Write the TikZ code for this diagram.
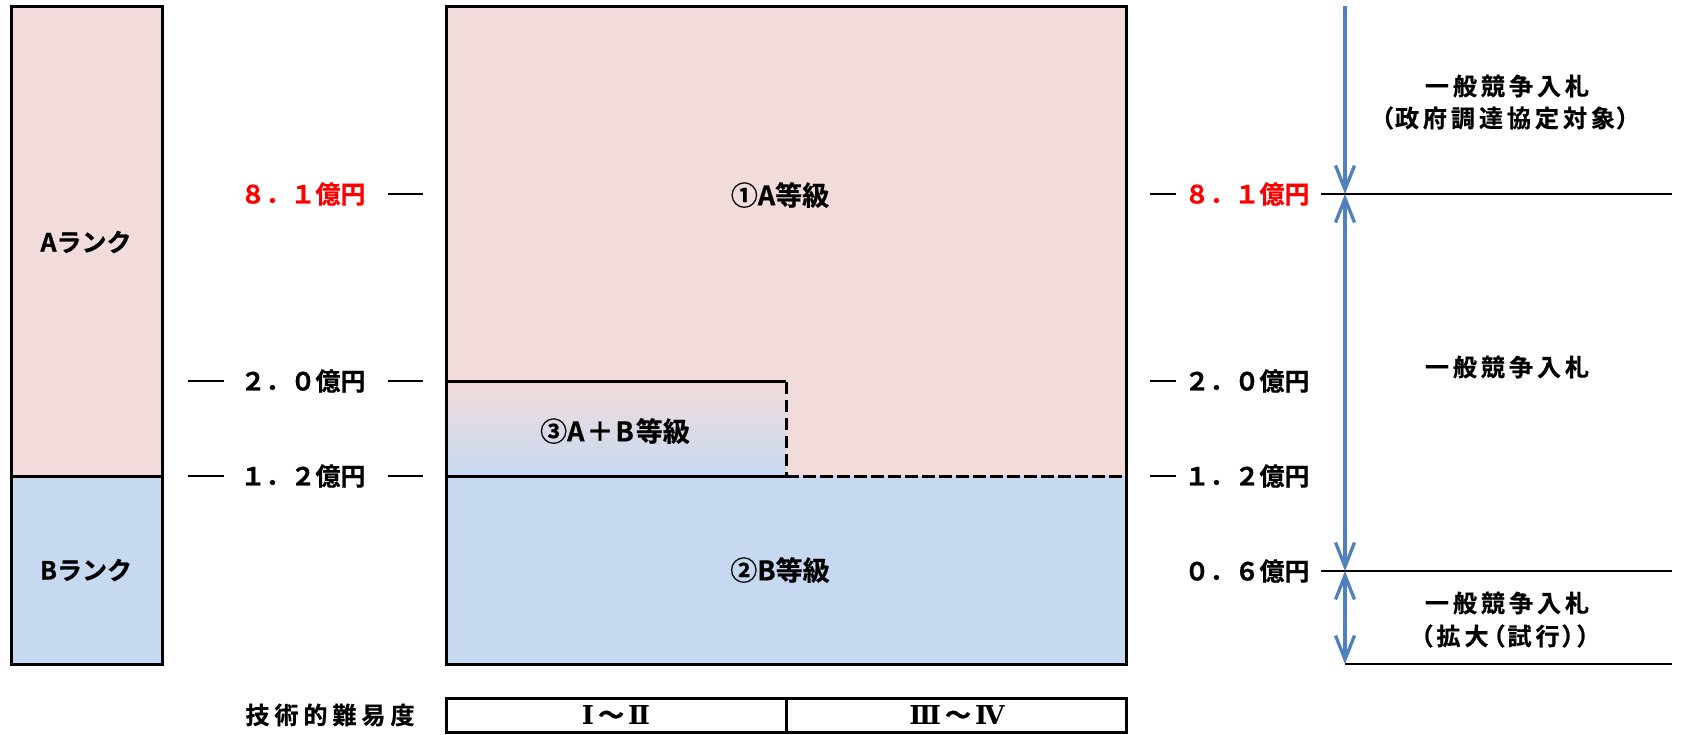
\documentclass[tikz,border=0pt]{standalone}
\usepackage{fontspec}
\usetikzlibrary{arrows.meta}
\newfontfamily\jp{Noto Sans CJK JP Bold}[FakeBold=0.6]
\newfontfamily\jpp{Noto Sans CJK JP Bold}[RawFeature=+palt,FakeBold=0.6]
\newfontfamily\romf{DejaVu Serif Bold}
\newcommand{\jsp}{\kern4pt}
\newcommand{\tsp}{\kern5pt}
\definecolor{pinkA}{HTML}{F2DCDB}
\definecolor{blueB}{HTML}{C6D9F1}
\definecolor{arrowblue}{HTML}{4F81BD}
\definecolor{labred}{HTML}{FF0000}
\tikzset{
  border/.style={line width=3pt, draw=black},
  tline/.style={line width=2pt, draw=black},
  dashA/.style={border, dash pattern=on 13pt off 4pt},
  barrow/.style={line width=3.3pt, draw=arrowblue},
  tip/.tip={Straight Barb[length=24pt,width=19pt,line width=3.3pt]},
  txt/.style={inner sep=0pt, text=black},
  amount/.style={txt, font=\jp\fontsize{25}{29}\selectfont},
  redamount/.style={amount, text=labred},
  rank/.style={txt, font=\jp\fontsize{25}{29}\selectfont},
  grade/.style={txt, font=\jp\fontsize{27}{31}\selectfont},
  note/.style={txt, font=\jpp\fontsize{24}{28}\selectfont},
  diff/.style={txt, font=\jp\fontsize{24}{28}\selectfont},
  roman/.style={txt, font=\fontsize{26}{30}\selectfont},
}
\begin{document}
\begin{tikzpicture}[x=1pt,y=-1pt]
\useasboundingbox (0,0) rectangle (1681,734);
% left rank bar
\fill[pinkA] (11,6) rectangle (162,476);
\fill[blueB] (11,476) rectangle (162,664);
\draw[border] (11,6) rectangle (162,664);
\draw[border] (11,476) -- (162,476);
\node[rank] (rankA) at (86,242) {Aランク};
\node[rank] (rankB) at (86,570) {Bランク};
% main chart
\fill[pinkA] (446,6) rectangle (1126,476);
\fill[blueB] (446,476) rectangle (1126,664);
\shade[top color=pinkA, bottom color=blueB] (446,381) rectangle (786,476);
\draw[border] (446,6) rectangle (1126,664);
\draw[border] (446,381) -- (786,381);
\draw[border] (446,476) -- (786,476);
\draw[border, dash pattern=on 12pt off 6pt] (786,382) -- (786,476);
\draw[dashA] (786,476) -- (1126,476);
\node[grade] (g1) at (780,195) {①A等級};
\node[grade] (g3) at (615,431) {③A\kern2pt＋\kern2pt B\kern2pt 等級};
\node[grade] (g2) at (780,570) {②B等級};
% left amount labels
\node[redamount] (l81) at (303,194) {８．１億円};
\draw[tline] (388,194) -- (423,194);
\node[amount] (l20) at (303,381) {２．０億円};
\draw[tline] (188,381) -- (224,381);
\draw[tline] (388,381) -- (423,381);
\node[amount] (l12) at (303,476) {１．２億円};
\draw[tline] (188,476) -- (224,476);
\draw[tline] (388,476) -- (423,476);
% right amount labels
\node[redamount] (r81) at (1247,194) {８．１億円};
\draw[tline] (1150,194) -- (1176,194);
\node[amount] (r20) at (1247,381) {２．０億円};
\draw[tline] (1150,381) -- (1176,381);
\node[amount] (r12) at (1247,476) {１．２億円};
\draw[tline] (1150,476) -- (1176,476);
\node[amount] (r06) at (1247,571) {０．６億円};
% right guide lines
\coordinate (atop) at (1345,6);
\coordinate (a81) at (1345,194);
\coordinate (a06) at (1345,571);
\coordinate (abot) at (1345,664);
\draw[tline] (1321,194) -- (1672,194);
\draw[tline] (1321,571) -- (1672,571);
\draw[tline] (abot) -- (1672,664);
\draw[barrow, -{tip}] (atop) -- (a81);
\draw[barrow, {tip}-{tip}] (a81) -- (a06);
\draw[barrow, {tip}-{tip}] (a06) -- (abot);
% right notes
\node[note] (n1a) at (1507,86) {一\jsp 般\jsp 競\jsp 争\jsp 入\jsp 札};
\node[note] (n1b) at (1505,118) {（\kern2pt 政\jsp 府\jsp 調\jsp 達\jsp 協\jsp 定\jsp 対\jsp 象\kern2pt ）};
\node[note] (n2) at (1507,367) {一\jsp 般\jsp 競\jsp 争\jsp 入\jsp 札};
\node[note] (n3a) at (1507,603) {一\jsp 般\jsp 競\jsp 争\jsp 入\jsp 札};
\node[note] (n3b) at (1505,636) {（\kern4pt 拡\jsp 大\kern4pt （\kern3pt 試\jsp 行\kern3pt ）\kern3pt ）};
% technical difficulty
\node[diff] (tech) at (330,715) {技\tsp 術\tsp 的\tsp 難\tsp 易\tsp 度};
\draw[border] (446,698) rectangle (1126,732);
\draw[border] (786,698) -- (786,732);
\node[roman] (d12) at (616,715) {{\romf Ⅰ}\kern4pt{\jp ～}\kern4pt{\romf Ⅱ}};
\node[roman] (d34) at (957,715) {{\romf Ⅲ}\kern4pt{\jp ～}\kern4pt{\romf Ⅳ}};
\end{tikzpicture}
\end{document}
